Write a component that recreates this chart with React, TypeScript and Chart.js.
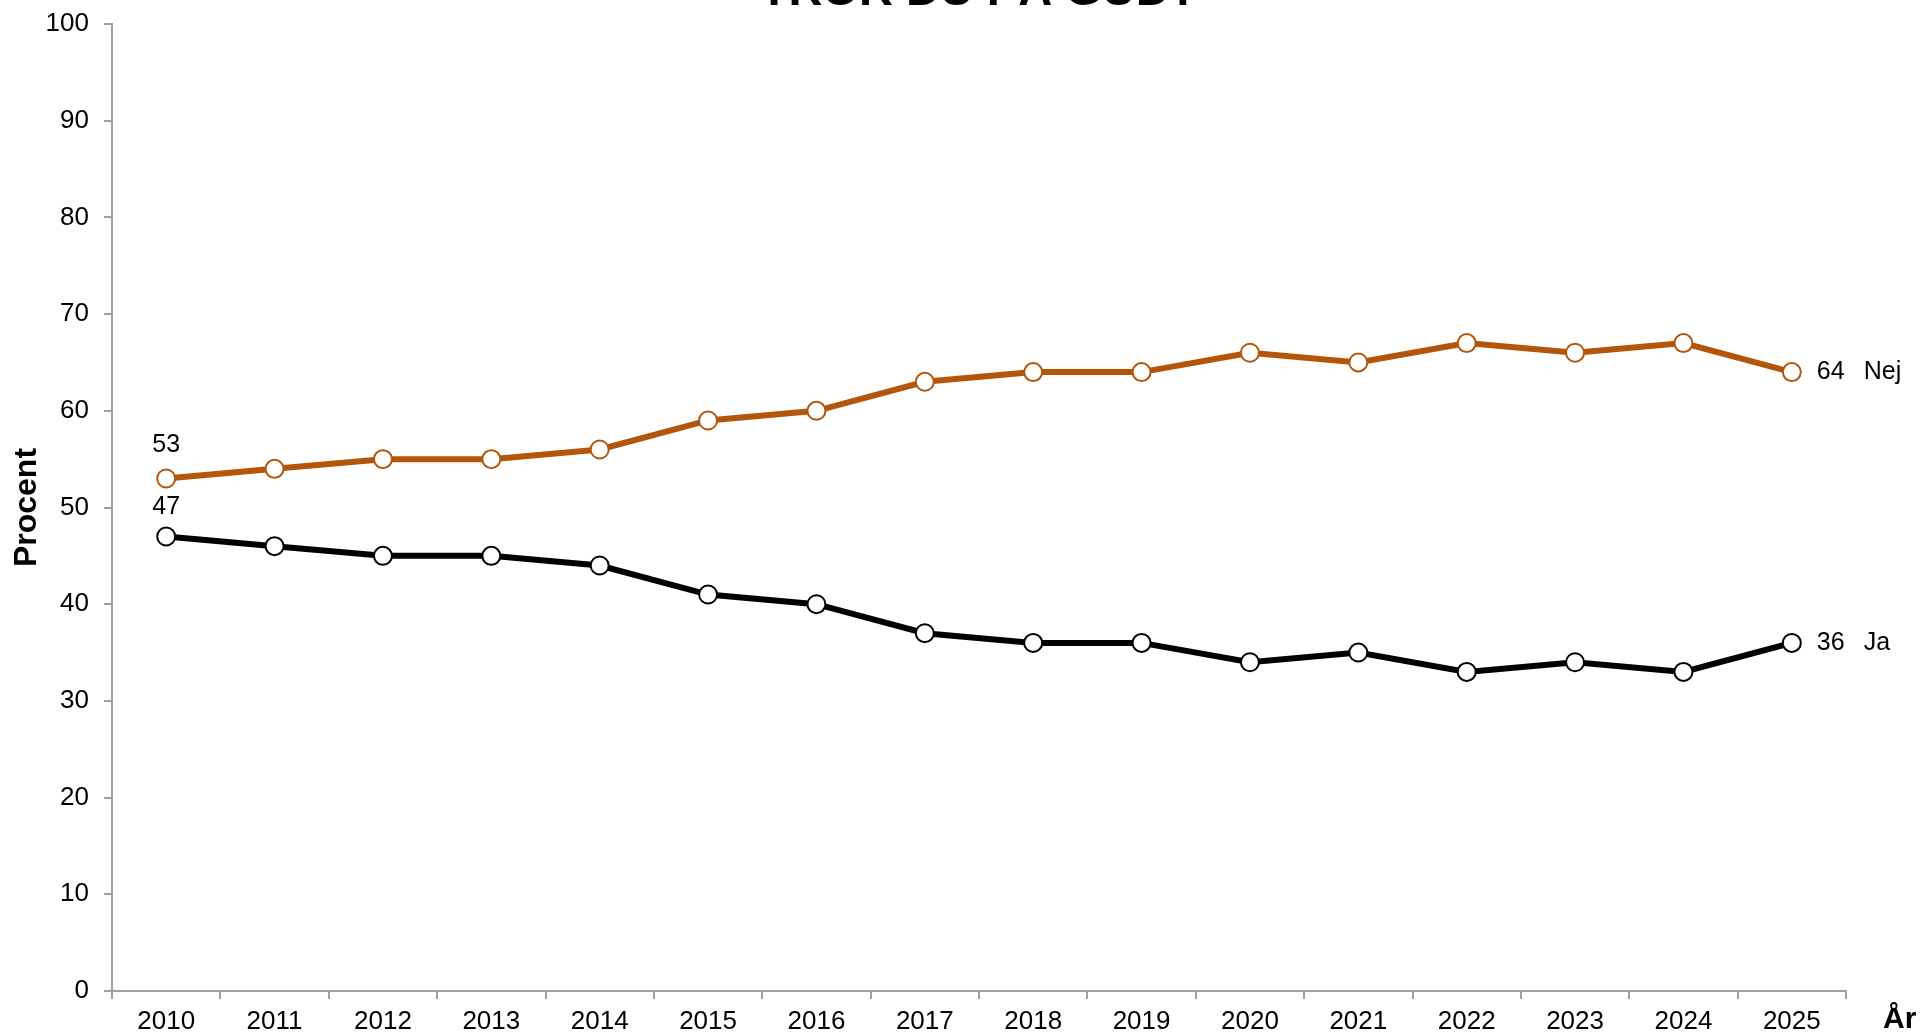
import React, { useEffect, useRef } from "react";
import { Chart, registerables } from "chart.js";
Chart.register(...registerables);

const years = ["2010", "2011", "2012", "2013", "2014", "2015", "2016", "2017", "2018", "2019", "2020", "2021", "2022", "2023", "2024", "2025"];
const nejValues = [53, 54, 55, 55, 56, 59, 60, 63, 64, 64, 66, 65, 67, 66, 67, 64];
const jaValues = [47, 46, 45, 45, 44, 41, 40, 37, 36, 36, 34, 35, 33, 34, 33, 36];
const seriesNames = ["Nej", "Ja"];
const chartTitle = "TROR DU PÅ GUD?";
const yTitle = "Procent";
const xTitle = "År";

const FONT = "'Liberation Sans', Arial, sans-serif";
const ORANGE = "#B3560B";
const GRAY = "#A0A0A0";

export default function App() {
  const ref = useRef<HTMLCanvasElement>(null);
  useEffect(() => {
    const canvas = ref.current!;
    const firstLabelOffsets = [33, 29];
    const textPlugin = {
      id: "texts",
      afterDatasetsDraw(chart: any) {
        const ctx = chart.ctx;
        const area = chart.chartArea;
        ctx.save();
        ctx.fillStyle = "#000";
        // title (cut off at top)
        ctx.font = `bold 47px ${FONT}`;
        ctx.textAlign = "center";
        ctx.textBaseline = "alphabetic";
        ctx.fillText(chartTitle, (area.left + area.right) / 2, 5);
        // y title
        ctx.save();
        ctx.translate(27, (area.top + area.bottom) / 2);
        ctx.rotate(-Math.PI / 2);
        ctx.font = `bold 32px ${FONT}`;
        ctx.textBaseline = "middle";
        ctx.fillText(yTitle, 0, 0);
        ctx.restore();
        // x title
        ctx.font = `bold 30px ${FONT}`;
        ctx.textAlign = "left";
        ctx.textBaseline = "middle";
        ctx.fillText(xTitle, 1883, 1020);
        // data labels
        ctx.font = `25px ${FONT}`;
        chart.data.datasets.forEach((ds: any, i: number) => {
          const meta = chart.getDatasetMeta(i);
          const first = meta.data[0];
          const last = meta.data[meta.data.length - 1];
          ctx.textAlign = "center";
          ctx.textBaseline = "middle";
          ctx.fillText(String(ds.data[0]), first.x, first.y - firstLabelOffsets[i]);
          ctx.textAlign = "left";
          ctx.fillText(String(ds.data[ds.data.length - 1]), last.x + 25, last.y);
          ctx.fillText(seriesNames[i], last.x + 72, last.y);
        });
        ctx.restore();
      },
    };
    const chart = new Chart(canvas, {
      type: "line",
      data: {
        labels: years,
        datasets: [
          {
            label: seriesNames[0],
            data: nejValues,
            borderColor: ORANGE,
            borderWidth: 6,
            pointRadius: 9,
            pointBorderWidth: 2,
            pointBackgroundColor: "#fff",
            pointBorderColor: ORANGE,
            clip: false as any,
          },
          {
            label: seriesNames[1],
            data: jaValues,
            borderColor: "#000",
            borderWidth: 6,
            pointRadius: 9,
            pointBorderWidth: 2,
            pointBackgroundColor: "#fff",
            pointBorderColor: "#000",
            clip: false as any,
          },
        ],
      },
      options: {
        responsive: false,
        animation: false,
        devicePixelRatio: 1,
        layout: { padding: { top: 24, right: 74, left: 0, bottom: 0 } },
        plugins: { legend: { display: false }, tooltip: { enabled: false }, title: { display: false } },
        scales: {
          x: {
            offset: true,
            grid: { offset: true, drawOnChartArea: false, drawTicks: true, tickLength: 8, color: GRAY, lineWidth: 2 },
            border: { color: GRAY, width: 2 },
            ticks: { color: "#000", font: { size: 26, family: FONT }, padding: 7, maxRotation: 0, autoSkip: false },
            afterFit: (s: any) => { s.height = 44; s.paddingLeft = 0; s.paddingRight = 0; },
          },
          y: {
            min: 0,
            max: 100,
            grid: { drawOnChartArea: false, drawTicks: true, tickLength: 8, color: GRAY, lineWidth: 2 },
            border: { color: GRAY, width: 2 },
            ticks: { stepSize: 10, color: "#000", font: { size: 26, family: FONT }, padding: 15 },
            afterFit: (s: any) => { s.width = 112; s.paddingTop = 0; s.paddingBottom = 0; },
          },
        },
      },
      plugins: [textPlugin],
    });
    return () => chart.destroy();
  }, []);
  return (
    <canvas
      ref={ref}
      width={1920}
      height={1035}
      style={{ position: "absolute", left: 0, top: 0, display: "block", width: 1920, height: 1035 }}
    />
  );
}
